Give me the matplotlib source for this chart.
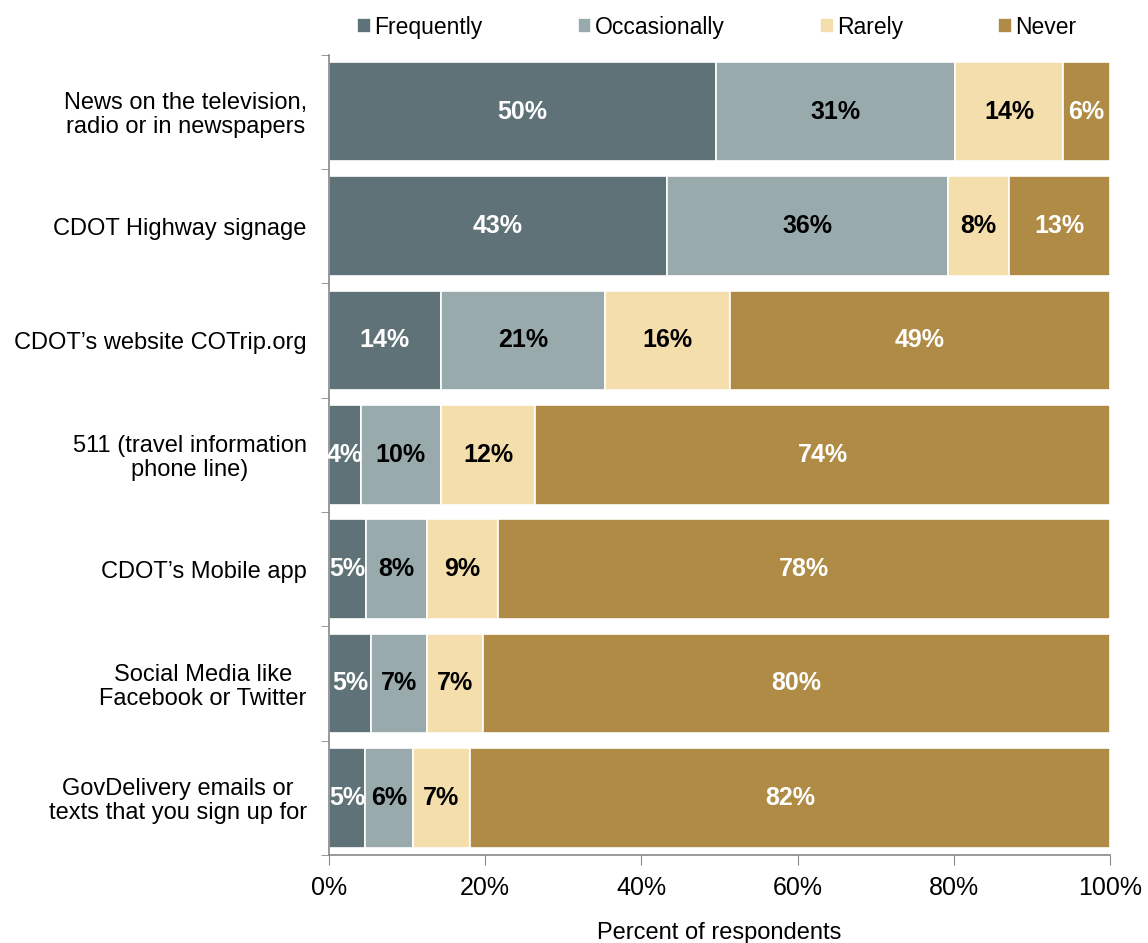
import matplotlib
matplotlib.use("Agg")
import matplotlib.pyplot as plt
import numpy as np

plt.rcParams['font.family'] = ['Liberation Sans', 'DejaVu Sans']

categories = [
    "News on the television,\nradio or in newspapers",
    "CDOT Highway signage",
    "CDOT\u2019s website COTrip.org",
    "511 (travel information\nphone line)",
    "CDOT\u2019s Mobile app",
    "Social Media like\nFacebook or Twitter",
    "GovDelivery emails or\ntexts that you sign up for",
]
series_names = ["Frequently", "Occasionally", "Rarely", "Never"]
frequently = [49.6, 43.3, 14.3, 4.1, 4.7, 5.4, 4.6]
occasionally = [30.6, 35.9, 21.0, 10.2, 7.8, 7.1, 6.1]
rarely = [13.8, 7.9, 16.0, 12.1, 9.1, 7.2, 7.3]
never = [6.0, 12.9, 48.7, 73.6, 78.4, 80.3, 82.0]
xticklabels = ["0%", "20%", "40%", "60%", "80%", "100%"]

colors = ["#5F7278", "#99AAAD", "#F4DEAB", "#B08B45"]
text_colors = ["white", "black", "black", "white"]

fig = plt.figure(figsize=(11.48, 9.43), dpi=100)
ax = fig.add_axes([0.2866, 0.0933, 0.9669 - 0.2866, 0.9422 - 0.0933])

y = np.arange(len(categories))
left = np.zeros(len(categories))
for name, vals, c, tc in zip(series_names, [frequently, occasionally, rarely, never], colors, text_colors):
    vals = np.array(vals)
    ax.barh(y, vals, left=left, height=0.87, color=c, edgecolor="white", linewidth=1.2, label=name)
    for yi, l, v in zip(y, left, vals):
        ax.text(l + v / 2, yi, f"{v:.0f}%", ha="center", va="center", color=tc,
                fontsize=18, fontweight="bold")
    left += vals

ax.set_xlim(0, 100)
ax.set_ylim(len(categories) - 0.5, -0.5)
ax.set_yticks(y)
ax.set_yticklabels(categories, fontsize=17, multialignment="center", linespacing=1.1)
ax.set_yticks(np.arange(len(categories) + 1) - 0.5, minor=True)
ax.tick_params(axis="y", which="major", length=0, pad=16)
ax.tick_params(axis="y", which="minor", length=6, color="#888888", direction="out")
ax.set_xticks(np.arange(0, 101, 20))
ax.set_xticklabels(xticklabels, fontsize=18)
ax.tick_params(axis="x", length=7, color="#888888", direction="out", pad=8)
for s in ["top", "right"]:
    ax.spines[s].set_visible(False)
for s in ["left", "bottom"]:
    ax.spines[s].set_color("#888888")
    ax.spines[s].set_linewidth(1.2)
ax.set_xlabel("Percent of respondents", fontsize=17, labelpad=16)

fig.legend(loc="center", bbox_to_anchor=(0.6245, 0.971), ncol=4, frameon=False,
           fontsize=16.5, handlelength=0.6, handleheight=0.6, handletextpad=0.15,
           columnspacing=4.15)

fig.savefig("out.png", dpi=100)
